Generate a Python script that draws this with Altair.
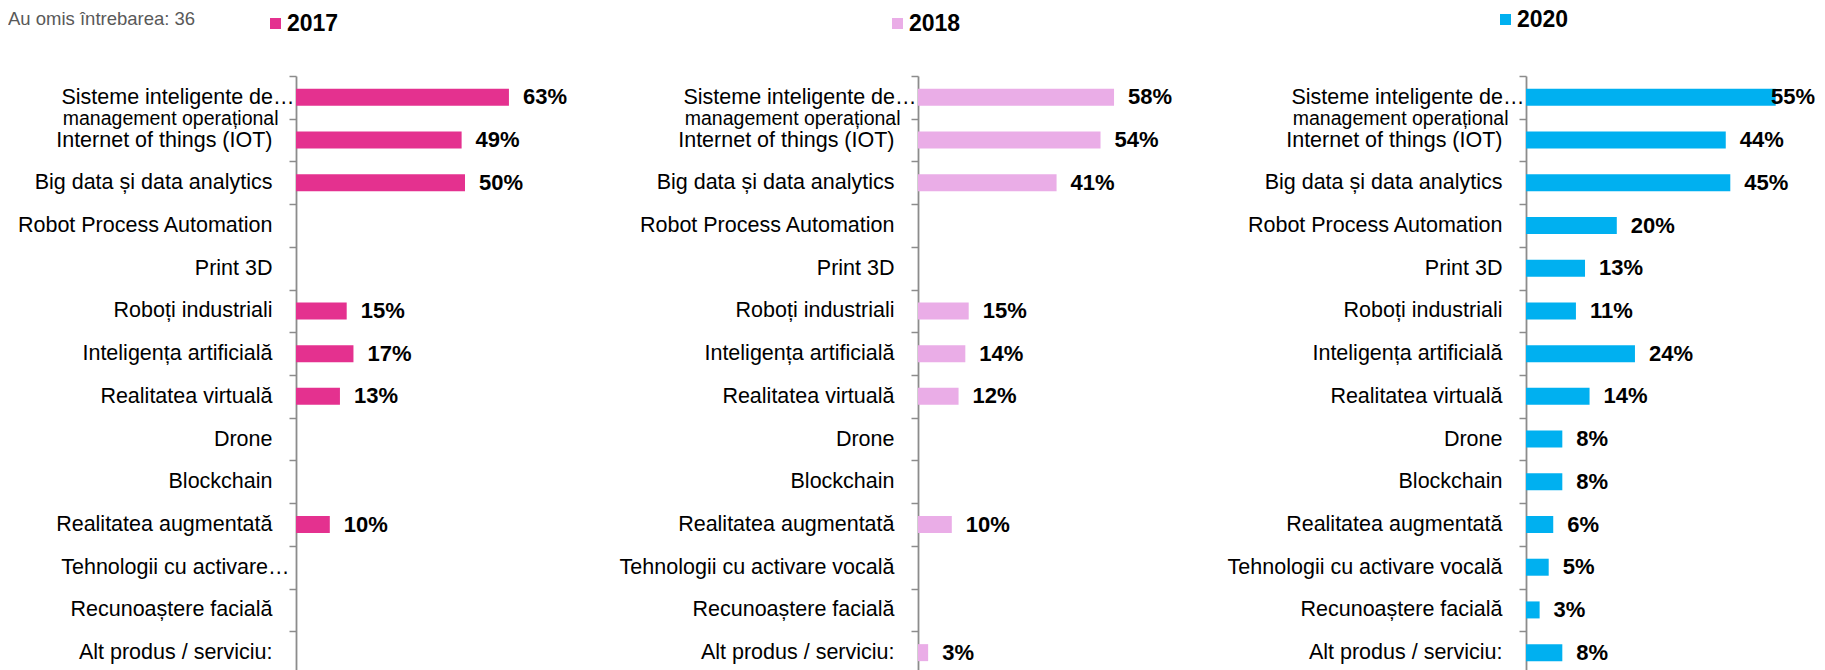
import altair as alt
import pandas as pd

# ---------------- data ----------------
categories = [
    "Sisteme inteligente de management operațional",
    "Internet of things (IOT)",
    "Big data și data analytics",
    "Robot Process Automation",
    "Print 3D",
    "Roboți industriali",
    "Inteligența artificială",
    "Realitatea virtuală",
    "Drone",
    "Blockchain",
    "Realitatea augmentată",
    "Tehnologii cu activare vocală",
    "Recunoaștere facială",
    "Alt produs / serviciu:",
]
v2017 = [63, 49, 50, None, None, 15, 17, 13, None, None, 10, None, None, None]
v2018 = [58, 54, 41, None, None, 15, 14, 12, None, None, 10, None, None, 3]
v2020 = [55, 44, 45, 20, 13, 11, 24, 14, 8, 8, 6, 5, 3, 8]
years = ["2017", "2018", "2020"]
colors = ["#E4318F", "#EAADE7", "#00B0F0"]
note = "Au omis întrebarea: 36"

# labels as they are shown (truncated by the original chart)
sist_line1 = "Sisteme inteligente de…"
sist_line2 = "management operațional"
teh_short = "Tehnologii cu activare…"

# ---------------- layout ----------------
FONT = "Liberation Sans"
PX_PER_PCT = [3.38, 3.38, 4.54]
WIDTHS = [304, 290, 289]
EXTENTS = [288, 306, 306]
HEIGHT = 598
LEGEND_X = -32
LEGEND_Y = [-64, -64, -68]
LABEL_DX = 14
VALUE_LABEL_W = 44
AXIS_GREY = "#8C8C8C"

rows = []
for yr, vals in zip(years, [v2017, v2018, v2020]):
    for c, v in zip(categories, vals):
        rows.append({"category": c, "year": yr, "value": v})
df = pd.DataFrame(rows)

SIST = categories[0]
TEH = categories[11]


def yscale():
    return alt.Scale(domain=categories, paddingInner=0, paddingOuter=0)


def panel(i):
    yr = years[i]
    dmax = WIDTHS[i] / PX_PER_PCT[i]
    clamp = dmax - (LABEL_DX + VALUE_LABEL_W) / PX_PER_PCT[i]
    if i == 0:
        label_expr = (f"datum.value == '{SIST}' ? '{sist_line1}' : "
                      f"datum.value == '{TEH}' ? '{teh_short}' : datum.label")
        pad = {"condition": [
            {"test": f"datum.value == '{SIST}'", "value": -5},
            {"test": f"datum.value == '{TEH}'", "value": 0},
        ], "value": 17}
    else:
        label_expr = f"datum.value == '{SIST}' ? '{sist_line1}' : datum.label"
        pad = {"condition": {"test": f"datum.value == '{SIST}'", "value": -5}, "value": 17}

    yenc = alt.Y(
        "category:N",
        sort=categories,
        scale=yscale(),
        axis=alt.Axis(
            title=None,
            orient="left",
            labelExpr=label_expr,
            labelFont=FONT,
            labelFontSize=21.5,
            labelColor="#000000",
            labelLimit=400,
            labelPadding=pad,
            tickBand="extent",
            tickSize=7,
            tickWidth=1.5,
            tickColor=AXIS_GREY,
            domainColor=AXIS_GREY,
            domainWidth=1.8,
            grid=False,
            minExtent=EXTENTS[i],
            labelOverlap=False,
        ),
    )
    # second left axis carrying only the wrapped second line of the first label
    yenc2 = alt.Y(
        "category:N",
        sort=categories,
        scale=yscale(),
        axis=alt.Axis(
            title=None,
            orient="left",
            labelExpr=f"datum.value == '{SIST}' ? '{sist_line2}' : ''",
            labelFont=FONT,
            labelFontSize=19.5,
            labelColor="#000000",
            labelLimit=400,
            labelOffset=21,
            labelPadding=18,
            domain=False,
            ticks=False,
            tickSize=0,
            grid=False,
            minExtent=0,
            labelOverlap=False,
        ),
    )
    xscale = alt.Scale(domain=[0, dmax], nice=False, zero=True)

    base = (
        alt.Chart(df)
        .transform_filter(f"datum.year == '{yr}'")
        .transform_filter("isValid(datum.value)")
    )
    bars = base.mark_bar(size=17).encode(
        x=alt.X("value:Q", scale=xscale, axis=None),
        y=yenc,
        color=alt.Color(
            "year:N",
            scale=alt.Scale(domain=[yr], range=[colors[i]]),
            legend=alt.Legend(
                title=None,
                orient="none",
                legendX=LEGEND_X,
                legendY=LEGEND_Y[i],
                symbolType="square",
                symbolSize=121,
                symbolStrokeWidth=0,
                symbolOpacity=1,
                labelFont=FONT,
                labelFontSize=23,
                labelFontWeight="bold",
                labelColor="#000000",
                labelOffset=0,
                padding=0,
            ),
        ),
    )
    texts = (
        base.transform_calculate(
            lx=f"min(datum.value, {clamp})",
            lab="datum.value + '%'",
        )
        .mark_text(
            align="left",
            baseline="middle",
            dx=LABEL_DX,
            font=FONT,
            fontSize=22,
            fontWeight="bold",
            color="#000000",
        )
        .encode(
            x=alt.X("lx:Q", scale=xscale, axis=None),
            y=alt.Y("category:N", sort=categories, scale=yscale()),
            text="lab:N",
        )
    )
    ghost = (
        alt.Chart(df)
        .transform_filter(f"datum.year == '{yr}'")
        .mark_point(opacity=0)
        .encode(y=yenc2)
    )
    main = alt.layer(bars, texts)
    return (
        alt.layer(main, ghost)
        .resolve_scale(y="independent")
        .properties(width=WIDTHS[i], height=HEIGHT)
    )


chart = (
    alt.hconcat(panel(0), panel(1), panel(2), spacing=12)
    .resolve_scale(x="independent", y="independent", color="independent")
    .resolve_legend(color="independent")
    .properties(
        title=alt.TitleParams(
            note,
            anchor="start",
            frame="bounds",
            font=FONT,
            fontSize=18.5,
            fontWeight="normal",
            color="#595959",
            offset=-20,
        ),
        padding={"left": 0, "top": 0, "right": 0, "bottom": 0},
        background="white",
    )
    .configure_view(stroke=None)
)

chart.save("out.html", embed_options={"renderer": "svg", "actions": False})
